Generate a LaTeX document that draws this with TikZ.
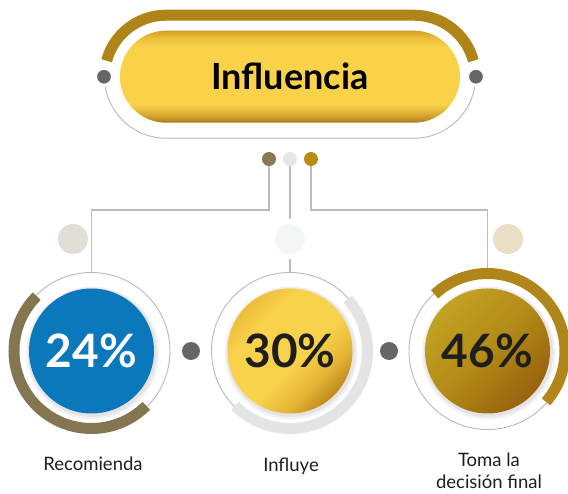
\documentclass[tikz,border=0pt]{standalone}
\usepackage{fontspec}
\setmainfont{Lato}
\usetikzlibrary{calc}
\definecolor{goldband}{HTML}{AF8418}
\definecolor{linegray}{HTML}{BDBDBD}
\definecolor{outlinegray}{HTML}{B8B8B8}
\definecolor{dotgray}{HTML}{666666}
\definecolor{brownarc}{HTML}{857652}
\definecolor{lightarc}{HTML}{E3E4E6}
\definecolor{goldarc}{HTML}{B0861A}
\definecolor{bluefill}{HTML}{0A78BB}
\definecolor{txt}{HTML}{1E1E1E}
\definecolor{decL}{HTML}{E2DED5}
\definecolor{decM}{HTML}{F4F5F5}
\definecolor{decR}{HTML}{EADFC6}
\definecolor{sdotL}{HTML}{887954}
\definecolor{sdotM}{HTML}{E6E6E8}
\definecolor{sdotR}{HTML}{B78D12}
\definecolor{pA}{HTML}{A97C18}
\definecolor{pB}{HTML}{D6A52E}
\definecolor{pC}{HTML}{F9D24A}
\definecolor{pD}{HTML}{EDBE38}
\definecolor{pE}{HTML}{CF9F25}
\definecolor{yA}{HTML}{EDBD3A}
\definecolor{yB}{HTML}{F9D24B}
\definecolor{yC}{HTML}{E6B536}
\definecolor{yD}{HTML}{BF8A1C}
\definecolor{gA}{HTML}{C2A222}
\definecolor{gB}{HTML}{B38A17}
\definecolor{gC}{HTML}{97620E}
\pgfdeclareverticalshading{pillshade}{100bp}{color(0bp)=(pA); color(25bp)=(pA); color(29bp)=(pB); color(35bp)=(pC); color(66bp)=(pC); color(71bp)=(pD); color(75bp)=(pE); color(100bp)=(pE)}
\pgfdeclarehorizontalshading{yshade}{100bp}{color(0bp)=(yA); color(25bp)=(yA); color(35bp)=(yB); color(55bp)=(yB); color(66bp)=(yC); color(75bp)=(yD); color(100bp)=(yD)}
\pgfdeclarehorizontalshading{gshade}{100bp}{color(0bp)=(gA); color(25bp)=(gA); color(50bp)=(gB); color(75bp)=(gC); color(100bp)=(gC)}
\begin{document}
\begin{tikzpicture}[x=1pt,y=1pt,
  conn/.style={draw=linegray, line width=1.3pt},
  ring/.style={circle, draw=outlinegray, line width=0.9pt, minimum size=157pt, inner sep=0pt},
  disc/.style={circle, minimum size=125pt, inner sep=0pt, font=\fontsize{46}{50}\selectfont\bfseries},
  gdot/.style={circle, fill=dotgray, draw=white, line width=3pt, minimum size=17pt, inner sep=0pt},
  cdot/.style={circle, fill=dotgray, minimum size=18pt, inner sep=0pt},
  sdot/.style={circle, minimum size=14pt, inner sep=0pt},
  deco/.style={circle, minimum size=30pt, inner sep=0pt},
  lbl/.style={text=txt, font=\fontsize{18.5}{22}\selectfont, align=center},
  pill/.style={rectangle, rounded corners=46pt, minimum width=340pt, minimum height=92pt, shading=pillshade, font=\fontsize{36}{40}\selectfont\bfseries, text=black}
]
\path[use as bounding box] (0,0) rectangle (568,493);

% title
\node[pill] (title) at (290,416.3) {Influencia};
\draw[goldband, line width=11pt] ($(title.center)+(-124,0)$) ++(165:61.5) arc[start angle=165,end angle=90,radius=61.5] -- ++(248,0) arc[start angle=90,end angle=15,radius=61.5];
\draw[outlinegray, line width=0.9pt] ($(title.center)+(-124,0)$) ++(180:61.5) arc[start angle=180,end angle=270,radius=61.5] -- ++(248,0) arc[start angle=270,end angle=360,radius=61.5];
\node[gdot] (tdL) at (104,416.3) {};
\node[gdot] (tdR) at (476,416.3) {};

% small dots
\node[sdot, fill=sdotL] (sL) at (269,334) {};
\node[sdot, fill=sdotM] (sM) at (290,334) {};
\node[sdot, fill=sdotR] (sR) at (311,334) {};

% rings
\node[ring] (cL) at (91.5,142) {};
\node[ring] (cM) at (290,142) {};
\node[ring] (cR) at (487.5,142) {};

% connectors
\coordinate (hY) at (0,283);
\draw[conn] (sL.south) -- (sL.south |- hY) -| (cL.north);
\draw[conn] (sM.south) -- (cM.north);
\draw[conn] (sR.south) -- (sR.south |- hY) -| (cR.north);

% deco circles
\node[deco, fill=decL] (dL) at (73,254) {};
\node[deco, fill=decM, draw=white, line width=5pt, minimum size=35pt] (dM) at (290,254) {};
\node[deco, fill=decR] (dR) at (508,254) {};

% arcs
\draw[brownarc, line width=11pt] (cL.center) ++(135:77.5) arc[start angle=135,end angle=315,radius=77.5];
\draw[lightarc, line width=11pt] (cM.center) ++(42:77.5) arc[start angle=42,end angle=-135,radius=77.5];
\draw[goldarc, line width=11pt] (cR.center) ++(133:77.5) arc[start angle=133,end angle=-41,radius=77.5];

% shadows
\foreach \c in {cL,cM,cR}{
  \fill[black, opacity=0.05] ($(\c.center)+(1,-2)$) circle (66.5);
  \fill[black, opacity=0.06] ($(\c.center)+(1,-1.5)$) circle (64.5);
}

% discs
\node[disc, fill=bluefill, text=white] (pL) at (cL.center) {24\%};
\node[disc, shading=yshade, shading angle=-45, text=txt] (pM) at (cM.center) {30\%};
\node[disc, shading=gshade, shading angle=-45, text=txt] (pR) at (cR.center) {46\%};

% between dots
\node[cdot] (bL) at (191,142) {};
\node[cdot] (bR) at (389,142) {};

% labels
\node[lbl, anchor=base] (lL) at (93,22) {Recomienda};
\node[lbl, anchor=base] (lM) at (291,21) {Influye};
\node[lbl, anchor=base] (lR) at (489,5) {Toma la\\decisión final};
\end{tikzpicture}
\end{document}
